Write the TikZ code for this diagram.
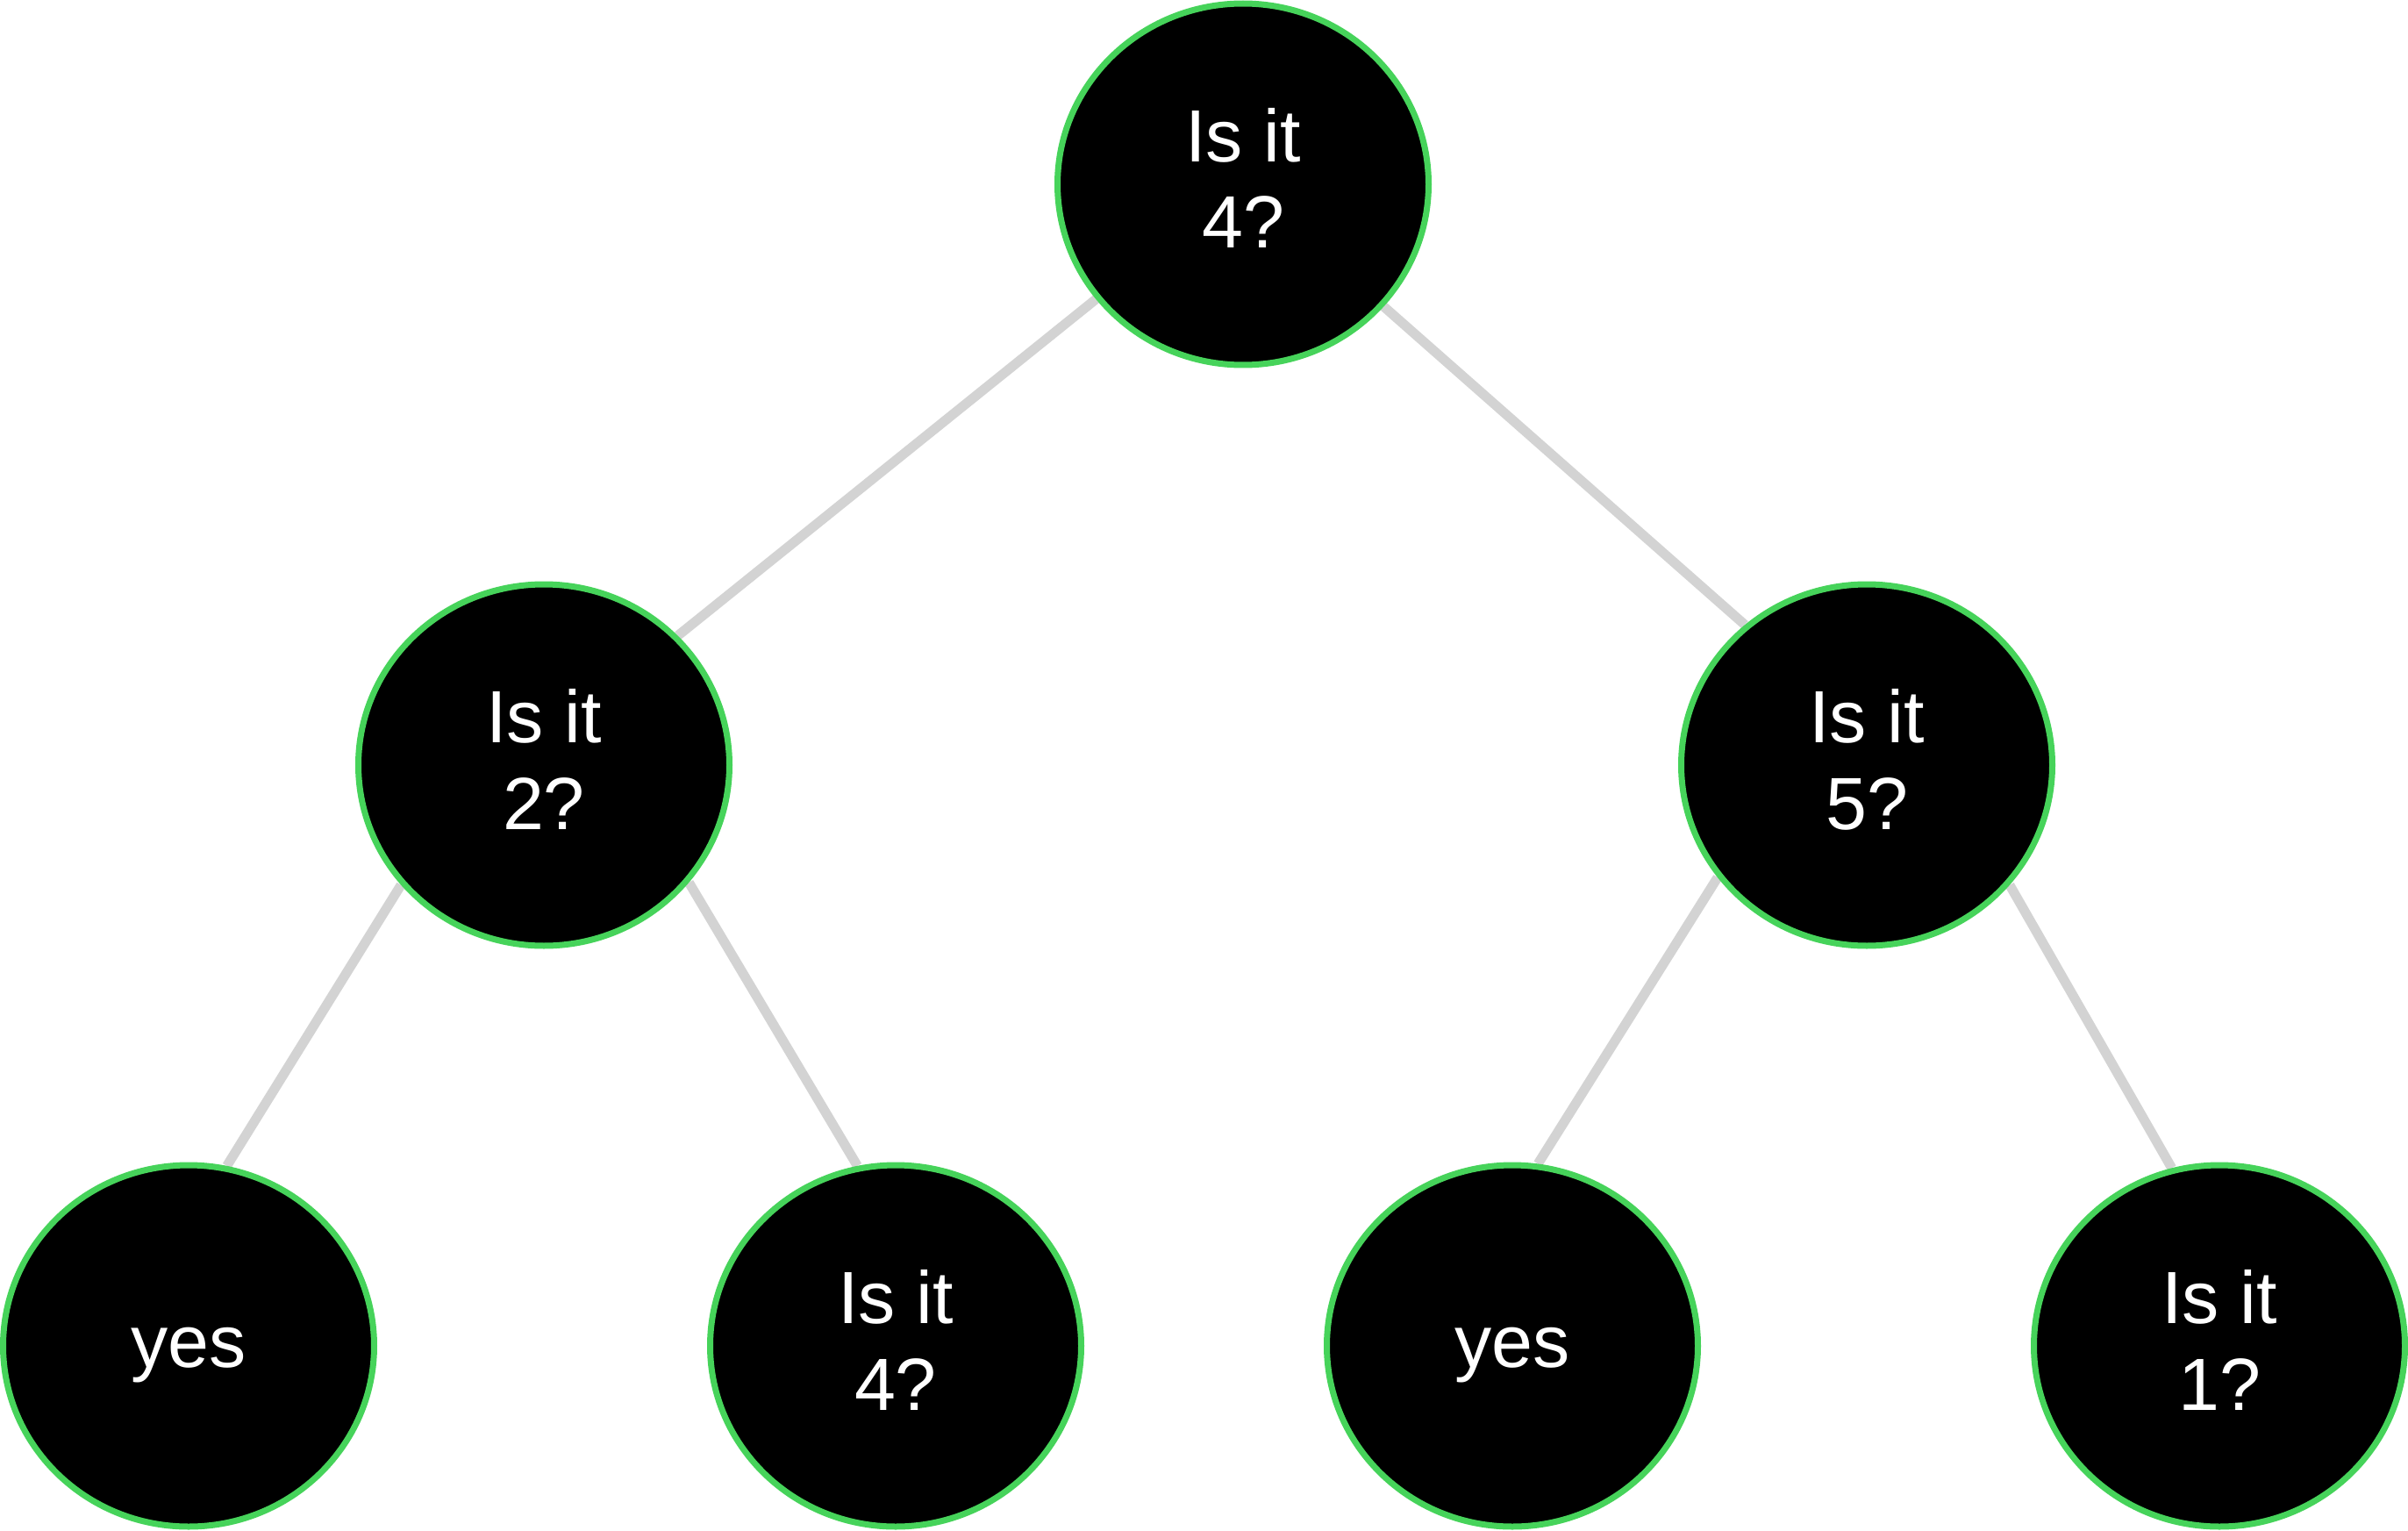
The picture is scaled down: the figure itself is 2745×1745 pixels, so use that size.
\documentclass[tikz,border=0pt]{standalone}
\usepackage{fontspec}
\setmainfont{Liberation Sans}
\usetikzlibrary{shapes.geometric,backgrounds}
\definecolor{ringgreen}{RGB}{70,211,90}
\definecolor{linkgray}{RGB}{211,211,211}
\tikzset{
  qnode/.style={ellipse, draw=ringgreen, fill=black, line width=0.7mm,
    minimum width=42.3mm, minimum height=41.2mm, inner sep=0pt},
  txt/.style={text=white, inner sep=0pt, anchor=base,
    font=\fontsize{24}{28}\selectfont},
  link/.style={draw=linkgray, line width=1.1mm}
}
\begin{document}
\begin{tikzpicture}[x=0.1mm, y=-0.1mm]
\useasboundingbox (0,0) rectangle (2745,1745);
% circles
\node[qnode] (root) at (1417,210) {};
\node[qnode] (l) at (620,872) {};
\node[qnode] (r) at (2128,872) {};
\node[qnode] (ll) at (215,1534) {};
\node[qnode] (lr) at (1021,1534) {};
\node[qnode] (rl) at (1724,1534) {};
\node[qnode] (rr) at (2530,1534) {};
% texts
\node[txt] (root-a) at ([yshift=2.55mm]root.center) {Is it};
\node[txt] (root-b) at ([yshift=-7.3mm]root.center) {4?};
\node[txt] (l-a) at ([yshift=2.55mm]l.center) {Is it};
\node[txt] (l-b) at ([yshift=-7.3mm]l.center) {2?};
\node[txt] (r-a) at ([yshift=2.55mm]r.center) {Is it};
\node[txt] (r-b) at ([yshift=-7.3mm]r.center) {5?};
\node[txt] (ll-a) at ([yshift=-2.4mm]ll.center) {yes};
\node[txt] (lr-a) at ([yshift=2.55mm]lr.center) {Is it};
\node[txt] (lr-b) at ([yshift=-7.3mm]lr.center) {4?};
\node[txt] (rl-a) at ([yshift=-2.4mm]rl.center) {yes};
\node[txt] (rr-a) at ([yshift=2.55mm]rr.center) {Is it};
\node[txt] (rr-b) at ([yshift=-7.3mm]rr.center) {1?};
% links
\begin{scope}[on background layer]
\draw[link] (root.218) -- (l.44);
\draw[link] (root.-41) -- (r.131);
\draw[link] (l.220) -- (ll.78.5);
\draw[link] (l.-39) -- (lr.102.7);
\draw[link] (r.217.6) -- (rl.82.4);
\draw[link] (r.-40.5) -- (rr.105.5);
\end{scope}
\end{tikzpicture}
\end{document}
